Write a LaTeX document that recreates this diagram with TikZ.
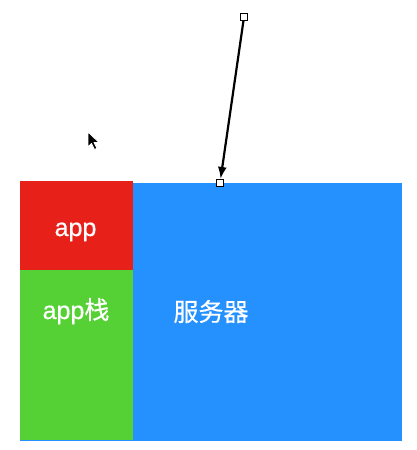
\documentclass[tikz,border=0pt]{standalone}
\usepackage{fontspec}
\setmainfont{Liberation Sans}
\newfontfamily\lat{Liberation Sans}[BoldFont={Liberation Sans}, BoldFeatures={FakeBold=0.6}]
\newfontfamily\cjk{Noto Sans CJK SC}[BoldFont={Noto Sans CJK SC}, BoldFeatures={FakeBold=0.6}]
\usetikzlibrary{arrows.meta}
\definecolor{appred}{HTML}{E8201A}
\definecolor{stackgreen}{HTML}{56D135}
\definecolor{srvblue}{HTML}{2491FF}
\tikzset{
  handle/.style={draw=black, fill=white, line width=1.1pt, minimum size=7pt, inner sep=0pt},
  lbl/.style={text=white, font=\fontsize{25}{27}\selectfont\lat\bfseries, inner sep=0pt, anchor=base},
}
\begin{document}
\begin{tikzpicture}[x=1pt,y=-1pt]
\useasboundingbox (0,0) rectangle (417,450);
\fill[white] (0,0) rectangle (417,450);
% server
\fill[srvblue] (20,183) rectangle (402,441);
\fill[appred] (20,181) rectangle (133,270);
\fill[stackgreen] (20,270) rectangle (133,440);
\node[lbl] (app) at (75.5,236) {app};
\node[lbl] (stack) at (76,319) {app{\cjk\bfseries 栈}};
\node[lbl] (srv) at (211,321) {\cjk\bfseries 服务器};
% arrow
\node[handle] (s) at (244,17) {};
\node[handle] (e) at (220,183) {};
\draw[line width=2.2pt, -{Latex[length=12pt,width=9pt]}] (s) -- (e);
% cursor
\draw[fill=black, draw=white, line width=0.8pt, line join=round]
  (88,132) -- (88,147) -- (91.5,143.5) -- (94.5,149.5) -- (97,148.3) -- (94,142.5) -- (99,142.5) -- cycle;
\end{tikzpicture}
\end{document}
